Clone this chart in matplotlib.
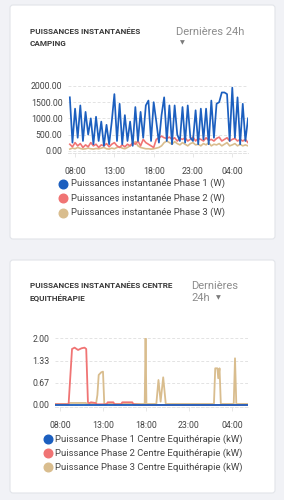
import matplotlib
matplotlib.use("Agg")
import matplotlib.pyplot as plt
from matplotlib.patches import FancyBboxPatch
from matplotlib.lines import Line2D

plt.rcParams["font.family"] = ["Roboto", "DejaVu Sans"]

W, H = 284, 500
BG = "#f1f2f6"
BLUE = "#1c5fbf"
RED = "#f07474"
TAN = "#d9bd8e"
TXT = "#444444"

# --- card 1 : camping (W), one sample every 20 min from 07:20 ---
T1_START, T1_STEP = 7 + 20 / 60, 1 / 3
phase1_w = [1650, 250, 1300, 400, 1400, 300, 1200, 500, 1000, 200,
            1050, 300, 900, 150, 800, 200, 900, 1750, 300, 1450,
            200, 1100, 300, 900, 150, 1350, 300, 1200, 400, 1400,
            1550, 300, 1500, 900, 250, 1100, 1650, 300, 1400, 200,
            1400, 500, 300, 1350, 250, 1400, 400, 300, 1250, 200,
            1300, 350, 1300, 200, 1550, 400, 1450, 1500, 1800, 1800,
            1750, 300, 1950, 400, 1650, 200, 1450, 300, 1000]
phase2_w = [200, 120, 250, 150, 220, 100, 180, 120, 250, 150,
            200, 100, 180, 150, 220, 120, 200, 250, 150, 100,
            180, 120, 200, 150, 250, 200, 300, 150, 350, 250,
            200, 150, 100, 350, 400, 450, 400, 380, 420, 350,
            400, 300, 380, 350, 400, 300, 350, 420, 300, 380,
            350, 300, 400, 320, 350, 300, 380, 420, 300, 350,
            400, 300, 350, 380, 300, 350, 300, 350, 250]
phase3_w = [50, 80, 60, 100, 70, 50, 60, 80, 60, 50,
            70, 60, 80, 100, 60, 50, 80, 60, 100, 120,
            80, 60, 100, 150, 200, 280, 150, 100, 80, 60,
            60, 50, 60, 80, 100, 150, 250, 300, 250, 200,
            280, 220, 180, 250, 200, 150, 220, 250, 180, 200,
            150, 220, 180, 250, 150, 200, 180, 220, 150, 200,
            250, 150, 180, 220, 150, 200, 150, 180, 150]
t1 = [T1_START + i * T1_STEP for i in range(len(phase1_w))]
y1_ticks = [0, 500, 1000, 1500, 2000]
labels1 = ["Puissances instantanée Phase 1 (W)",
           "Puissances instantanée Phase 2 (W)",
           "Puissances instantanée Phase 3 (W)"]

# --- card 2 : centre equitherapie (kW), irregular samples (hours) ---
p1_t = [7.42, 12.0, 18.0, 24.0, 29.86]
p1_kw = [0.005, 0.005, 0.005, 0.005, 0.005]
p2_t = [7.42, 9.0, 9.4, 9.7, 10.1, 10.5, 10.85, 11.05, 11.25, 11.4, 11.6, 12.1,
        12.3, 13.4, 13.55, 14.2, 14.35, 15.1, 15.25, 16.4, 16.55, 17.5, 29.86]
p2_kw = [0.02, 0.02, 1.68, 1.72, 1.65, 1.70, 1.72, 1.68, 0.08, 0.05, 0.08, 0.06,
         0.02, 0.02, 0.08, 0.08, 0.02, 0.02, 0.08, 0.08, 0.02, 0.0, 0.0]
p3_t = [7.42, 8.9, 9.1, 11.0, 11.2, 12.2, 12.35, 12.5, 12.8, 13.0, 13.15, 17.85,
        17.95, 18.05, 18.2, 19.2, 19.45, 19.7, 20.0, 20.3, 25.9, 26.05, 26.3,
        26.4, 26.55, 26.7, 28.2, 28.35, 28.5, 29.86]
p3_kw = [0.03, 0.03, 0.06, 0.06, 0.03, 0.05, 0.3, 0.9, 0.98, 1.0, 0.03, 0.03,
         2.0, 0.03, 0.03, 0.03, 0.75, 0.1, 0.83, 0.03, 0.03, 1.1, 1.1,
         0.8, 1.1, 0.03, 0.03, 1.4, 0.03, 0.03]
y2_ticks = [0.0, 0.67, 1.33, 2.0]
labels2 = ["Puissance Phase 1 Centre Equithérapie (kW)",
           "Puissance Phase 2 Centre Equithérapie (kW)",
           "Puissance Phase 3 Centre Equithérapie (kW)"]

hour_ticks = [8, 13, 18, 23, 28]
hour_labels = ["08:00", "13:00", "18:00", "23:00", "04:00"]

fig = plt.figure(figsize=(W / 100, H / 100), dpi=100)
fig.patch.set_facecolor(BG)

# background layer in pixel coordinates
bg = fig.add_axes([0, 0, 1, 1], zorder=0)
bg.set_xlim(0, W)
bg.set_ylim(H, 0)
bg.axis("off")
for top, bottom in [(5, 239), (260, 493)]:
    bg.add_patch(FancyBboxPatch((10, top), 265, bottom - top,
                                boxstyle="round,pad=0,rounding_size=3",
                                facecolor="white", edgecolor="#e2e4e9", lw=0.8))

# titles
TITLE = dict(fontsize=5.9, fontweight="bold", color="#3a3a3a", va="center")
bg.text(30, 31, "PUISSANCES INSTANTANÉES", **TITLE)
bg.text(30, 43, "CAMPING", **TITLE)
bg.text(176, 32, "Dernières 24h", fontsize=8, color="#8c8c8c", va="center")
bg.text(182, 43, "▼", fontsize=4.5, color="#7a7a7a", va="center", ha="center",
        family="DejaVu Sans")

bg.text(30, 285, "PUISSANCES INSTANTANÉES CENTRE", **TITLE)
bg.text(30, 298, "EQUITHÉRAPIE", **TITLE)
bg.text(191, 286, "Dernières", fontsize=8, color="#8c8c8c", va="center")
bg.text(191, 298, "24h", fontsize=8, color="#8c8c8c", va="center")
bg.text(218, 298, "▼", fontsize=4.5, color="#7a7a7a", va="center", ha="center",
        family="DejaVu Sans")


def style_axes(ax, yticks, fmt):
    ax.set_facecolor("none")
    for s in ["top", "right", "left"]:
        ax.spines[s].set_visible(False)
    ax.spines["bottom"].set_color("#e3e3e3")
    ax.spines["bottom"].set_linestyle((0, (3, 2)))
    ax.spines["bottom"].set_linewidth(0.7)
    ax.set_yticks(yticks)
    ax.set_yticklabels([fmt.format(v) for v in yticks])
    ax.set_xticks(hour_ticks)
    ax.set_xticklabels(hour_labels)
    ax.tick_params(axis="y", length=0, pad=4, labelsize=6.3, labelcolor=TXT)
    ax.tick_params(axis="x", length=3, width=0.6, color="#e3e3e3", pad=7,
                   labelsize=6.3, labelcolor=TXT)
    ax.grid(axis="y", color="#e3e3e3", linestyle=(0, (3, 2)), linewidth=0.7)
    ax.set_axisbelow(True)


# chart 1
ax1 = fig.add_axes([68 / W, 1 - 153.3 / H, 180 / W, 67.3 / H], zorder=2)
ax1.plot(t1, phase3_w, color=TAN, lw=1.2)
ax1.plot(t1, phase2_w, color=RED, lw=1.2)
ax1.plot(t1, phase1_w, color=BLUE, lw=1.25)
ax1.set_xlim(7.1, 30.0)
ax1.set_ylim(-80, 2000)
style_axes(ax1, y1_ticks, "{:.2f}")

# chart 2
ax2 = fig.add_axes([55 / W, 1 - 407.3 / H, 193 / W, 69 / H], zorder=2)
ax2.plot(p3_t, p3_kw, color=TAN, lw=1.3)
ax2.plot(p2_t, p2_kw, color=RED, lw=1.3)
ax2.plot(p1_t, p1_kw, color=BLUE, lw=1.3)
ax2.set_xlim(7.42, 29.86)
ax2.set_ylim(-0.07, 2.0)
style_axes(ax2, y2_ticks, "{:.2f}")

# legends (drawn by hand in pixel coords)
for x_dot, x_txt, ys, labels in [(63, 71, [183.5, 198, 212.5], labels1),
                                 (48, 55, [439, 453, 467], labels2)]:
    for y, lab, col in zip(ys, labels, [BLUE, RED, TAN]):
        bg.add_line(Line2D([x_dot], [y], marker="o", markersize=6.2,
                           color=col, linestyle="none"))
        bg.text(x_txt, y, lab, fontsize=6.8, color=TXT, va="center")

fig.savefig("out.png", dpi=100, facecolor=BG)
